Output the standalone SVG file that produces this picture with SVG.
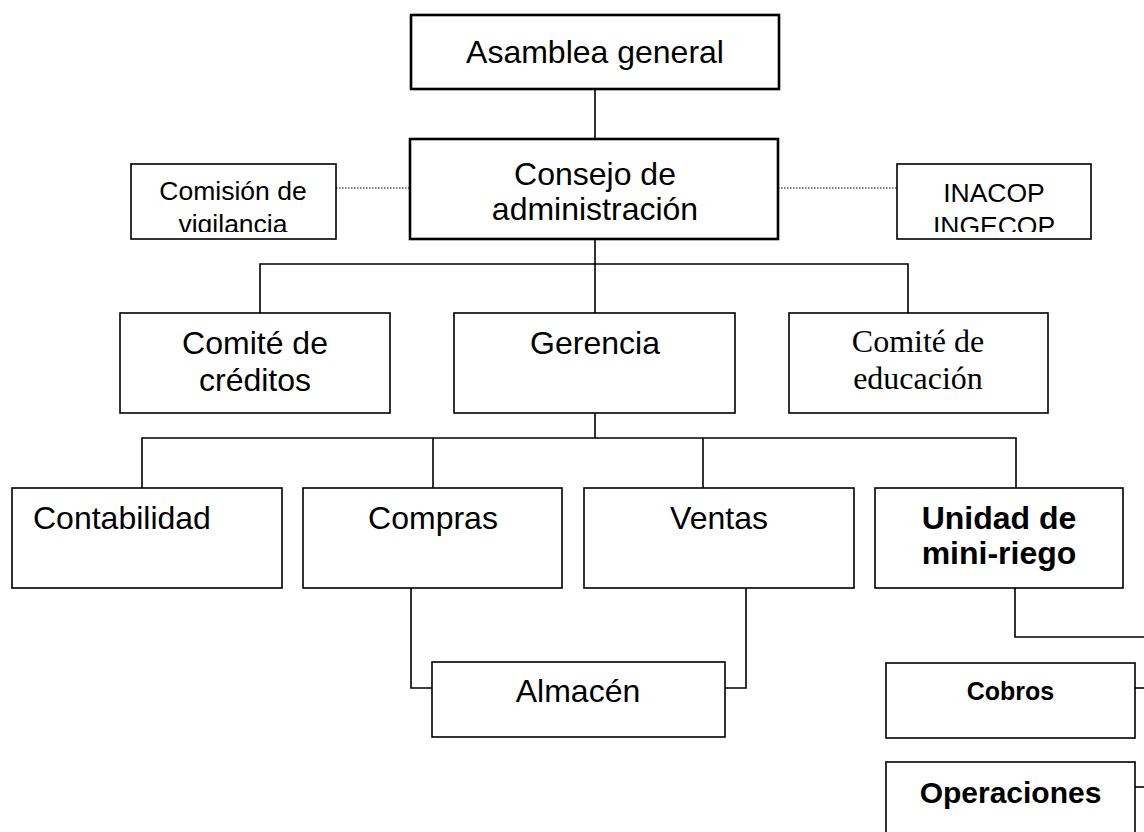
<svg xmlns="http://www.w3.org/2000/svg" width="1144" height="832" viewBox="0 0 1144 832">
<style>
.box{fill:#fff;stroke:#000;stroke-width:1.6}
.thick{stroke-width:2.6}
.t{font-family:"Liberation Sans",Arial,sans-serif;font-size:32px;fill:#000;text-anchor:middle}
.s{font-size:26.5px}
.serif{font-family:"Liberation Serif","Times New Roman",serif}
.b{font-weight:bold}
.ln{fill:none;stroke:#000;stroke-width:1.6}
.dot{fill:none;stroke:#000;stroke-width:1.2;stroke-dasharray:1.5 1.5}
</style>
<defs>
<clipPath id="c1"><rect x="131" y="164" width="205" height="68"/></clipPath>
<clipPath id="c2"><rect x="897" y="164" width="194" height="68"/></clipPath>
</defs>
<g id="connectors">
<line class="ln" x1="595" y1="89" x2="595" y2="139"/>
<line class="dot" x1="336" y1="188" x2="410" y2="188"/>
<line class="dot" x1="778" y1="188" x2="897" y2="188"/>
<line class="ln" x1="595" y1="239" x2="595" y2="313"/>
<polyline class="ln" points="260,313 260,264 908,264 908,313"/>
<line class="ln" x1="595" y1="413" x2="595" y2="438"/>
<polyline class="ln" points="142,488 142,438 1016,438 1016,488"/>
<line class="ln" x1="433" y1="438" x2="433" y2="488"/>
<line class="ln" x1="703" y1="438" x2="703" y2="488"/>
<polyline class="ln" points="411,588 411,688 432,688"/>
<polyline class="ln" points="746,588 746,688 725,688"/>
<polyline class="ln" points="1015,588 1015,637 1144,637"/>
<line class="ln" x1="1135" y1="688" x2="1144" y2="688"/>
<line class="ln" x1="1135" y1="787" x2="1144" y2="787"/>
</g>
<g id="asamblea">
<rect class="box thick" x="411" y="15" width="368" height="74"/>
<text class="t" x="595" y="63">Asamblea general</text>
</g>
<g id="consejo">
<rect class="box thick" x="410" y="139" width="368" height="100"/>
<text class="t" x="595" y="185">Consejo de</text>
<text class="t" x="595" y="220">administración</text>
</g>
<g id="comision">
<rect class="box" x="131" y="164" width="205" height="75"/>
<g clip-path="url(#c1)">
<text class="t s" x="233" y="200">Comisión de</text>
<text class="t s" x="233" y="233">vigilancia</text>
</g>
</g>
<g id="inacop">
<rect class="box" x="897" y="164" width="194" height="75"/>
<g clip-path="url(#c2)">
<text class="t s" x="994" y="202">INACOP</text>
<text class="t s" x="994" y="235">INGECOP</text>
</g>
</g>
<g id="creditos">
<rect class="box" x="120" y="313" width="270" height="100"/>
<text class="t" x="255" y="354">Comité de</text>
<text class="t" x="255" y="391">créditos</text>
</g>
<g id="gerencia">
<rect class="box" x="454" y="313" width="281" height="100"/>
<text class="t" x="595" y="354">Gerencia</text>
</g>
<g id="educacion">
<rect class="box" x="789" y="313" width="259" height="100"/>
<text class="t serif" x="918" y="352">Comité de</text>
<text class="t serif" x="918" y="389">educación</text>
</g>
<g id="contabilidad">
<rect class="box" x="12" y="488" width="270" height="100"/>
<text class="t" x="33" y="529" style="text-anchor:start">Contabilidad</text>
</g>
<g id="compras">
<rect class="box" x="303" y="488" width="259" height="100"/>
<text class="t" x="433" y="529">Compras</text>
</g>
<g id="ventas">
<rect class="box" x="584" y="488" width="270" height="100"/>
<text class="t" x="719" y="529">Ventas</text>
</g>
<g id="unidad">
<rect class="box" x="875" y="488" width="248" height="100"/>
<text class="t b" x="999" y="529">Unidad de</text>
<text class="t b" x="999" y="564">mini-riego</text>
</g>
<g id="almacen">
<rect class="box" x="432" y="662" width="293" height="75"/>
<text class="t" x="578" y="702">Almacén</text>
</g>
<g id="cobros">
<rect class="box" x="886" y="663" width="249" height="75"/>
<text class="t b" x="1010.5" y="700" style="font-size:25px">Cobros</text>
</g>
<g id="operaciones">
<rect class="box" x="886" y="762" width="249" height="80"/>
<text class="t b" x="1010.5" y="803" style="font-size:30px">Operaciones</text>
</g>
</svg>
